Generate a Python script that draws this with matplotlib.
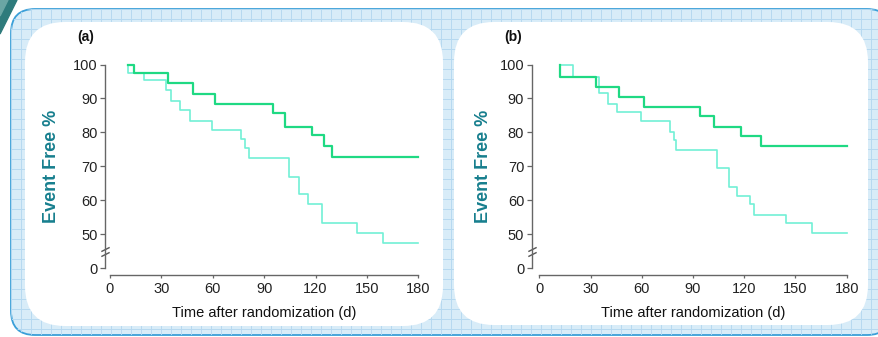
import matplotlib
matplotlib.use("Agg")
import matplotlib.pyplot as plt
from matplotlib.patches import FancyBboxPatch, Polygon

plt.rcParams['font.family'] = ['Liberation Sans', 'DejaVu Sans']

# ---- data (days, event free %) ----
a_dark_t = [10.7, 14.0, 34.0, 48.3, 61.3, 95.0, 102.1, 117.7, 125.1, 129.4, 180]
a_dark_v = [100, 97.4, 94.6, 91.3, 88.5, 85.7, 81.7, 79.3, 76.0, 72.9, 72.9]
a_light_t = [10.7, 10.7, 20.0, 32.7, 35.4, 40.9, 46.7, 59.7, 76.5, 78.8, 81.1,
             104.7, 110.5, 115.8, 123.6, 144.0, 159.5, 180]
a_light_v = [100, 97.4, 95.3, 92.6, 89.4, 86.7, 83.4, 80.8, 78.0, 75.4, 72.4,
             67.0, 62.0, 58.8, 53.2, 50.4, 47.4, 47.4]

b_dark_t = [12.1, 12.1, 33.0, 46.7, 61.5, 94.1, 102.3, 117.9, 129.8, 180]
b_dark_v = [100, 96.4, 93.4, 90.5, 87.5, 84.8, 81.5, 78.9, 76.0, 76.0]
b_light_t = [12.1, 19.9, 35.2, 40.4, 45.7, 59.4, 76.5, 78.9, 80.1, 103.9,
             111.3, 116.0, 123.4, 125.7, 144.5, 159.9, 180]
b_light_v = [100, 96.4, 91.5, 88.5, 86.1, 83.3, 80.2, 77.7, 74.8, 69.6,
             64.0, 61.4, 58.8, 55.7, 53.2, 50.5, 50.5]

x_ticks = [0, 30, 60, 90, 120, 150, 180]
# the axis is broken between 0 and 50: "0" sits one step below 50
y_ticks = [40, 50, 60, 70, 80, 90, 100]
y_tick_labels = ['0', '50', '60', '70', '80', '90', '100']

dark_col = '#1fd983'
light_col = '#72f0d6'
label_col = '#177f8e'

W, H = 879, 337
fig = plt.figure(figsize=(W / 100, H / 100), dpi=100)

# ---- decorative background, in pixel units ----
bg = fig.add_axes([0, 0, 1, 1], zorder=0)
bg.set_xlim(0, W)
bg.set_ylim(H, 0)
bg.axis('off')

frame = FancyBboxPatch((11, 9), 880, 326, boxstyle='round,pad=0,rounding_size=24',
                       facecolor='#d8ecf8', edgecolor='#3a9fd8', lw=1.3, zorder=1)
bg.add_patch(frame)
for gx in range(11, W + 10, 10):
    ln, = bg.plot([gx, gx], [9, 336], color='#b6d9f0', lw=0.7, zorder=1.5)
    ln.set_clip_path(frame)
for gy in range(9, H + 10, 10):
    ln, = bg.plot([11, W + 10], [gy, gy], color='#b6d9f0', lw=0.7, zorder=1.5)
    ln.set_clip_path(frame)

bg.add_patch(Polygon([(0, 0), (17, 0), (0, 34)], closed=True, color='#2e7b7c', zorder=2))
bg.add_patch(Polygon([(0, 0), (8, 0), (0, 16)], closed=True, color='#6aa6a4', zorder=2))

bg.add_patch(FancyBboxPatch((25, 22), 418, 304, boxstyle='round,pad=0,rounding_size=40',
                            facecolor='white', edgecolor='none', zorder=3))
bg.add_patch(FancyBboxPatch((454, 22), 414, 303, boxstyle='round,pad=0,rounding_size=40',
                            facecolor='white', edgecolor='none', zorder=3))


def km_panel(left_px, right_px, spine_px, dark_t, dark_v, light_t, light_v, tag, tag_x,
             ylab_x):
    top_px, bot_px = 64.5, 268.3
    width = right_px - left_px
    ax = fig.add_axes([left_px / W, 1 - bot_px / H, width / W,
                       (bot_px - top_px) / H], zorder=2)
    ax.patch.set_visible(False)
    ax.step(light_t, light_v, where='post', color=light_col, lw=1.2, clip_on=False)
    ax.step(dark_t, dark_v, where='post', color=dark_col, lw=1.6, clip_on=False)
    ax.set_xlim(0, 180)
    ax.set_ylim(40, 100)
    ax.set_xticks(x_ticks)
    ax.set_yticks(y_ticks)
    ax.set_yticklabels(y_tick_labels)
    for s in ['top', 'right']:
        ax.spines[s].set_visible(False)
    off = (left_px - spine_px) * 0.72
    ax.spines['left'].set_position(('outward', off))
    ax.spines['bottom'].set_position(('outward', 4.8))
    for s in ['left', 'bottom']:
        ax.spines[s].set_color('#666666')
        ax.spines[s].set_linewidth(1.0)
    ax.tick_params(axis='y', length=3.6, width=0.9, color='#666666', pad=1.8,
                   labelsize=10.5, labelcolor='#222222')
    ax.tick_params(axis='x', length=2.5, width=0.9, color='#666666', pad=2.5,
                   labelsize=10.5, labelcolor='#222222')
    ax.set_xlabel('Time after randomization (d)', fontsize=10.5, color='#111111')
    ax.xaxis.set_label_coords(0.5, -(305.5 - bot_px) / (bot_px - top_px))
    ax.set_ylabel('Event Free %', fontsize=13, fontweight='bold', color=label_col)
    # the label anchor is the right edge of the rotated text
    ax.yaxis.set_label_coords((ylab_x + 9 - left_px) / width, 0.5)
    # axis break marks on the y spine
    xb = -(left_px - spine_px) / width
    ax.plot([xb, xb], [44.2, 45.6], transform=ax.get_yaxis_transform(),
            marker=[(-1, -0.5), (1, 0.5)], markersize=6, linestyle='none',
            color='#555555', mew=1.0, clip_on=False)
    fig.text(tag_x / W, 1 - 37 / H, tag, fontsize=10, fontweight='bold',
             ha='center', va='center', color='#111111', zorder=5)
    return ax


km_panel(110, 418.3, 105, a_dark_t, a_dark_v, a_light_t, a_light_v, '(a)', 86, 51)
km_panel(539.3, 846.7, 531.7, b_dark_t, b_dark_v, b_light_t, b_light_v, '(b)', 513, 483)

fig.savefig('out.png', dpi=100)
